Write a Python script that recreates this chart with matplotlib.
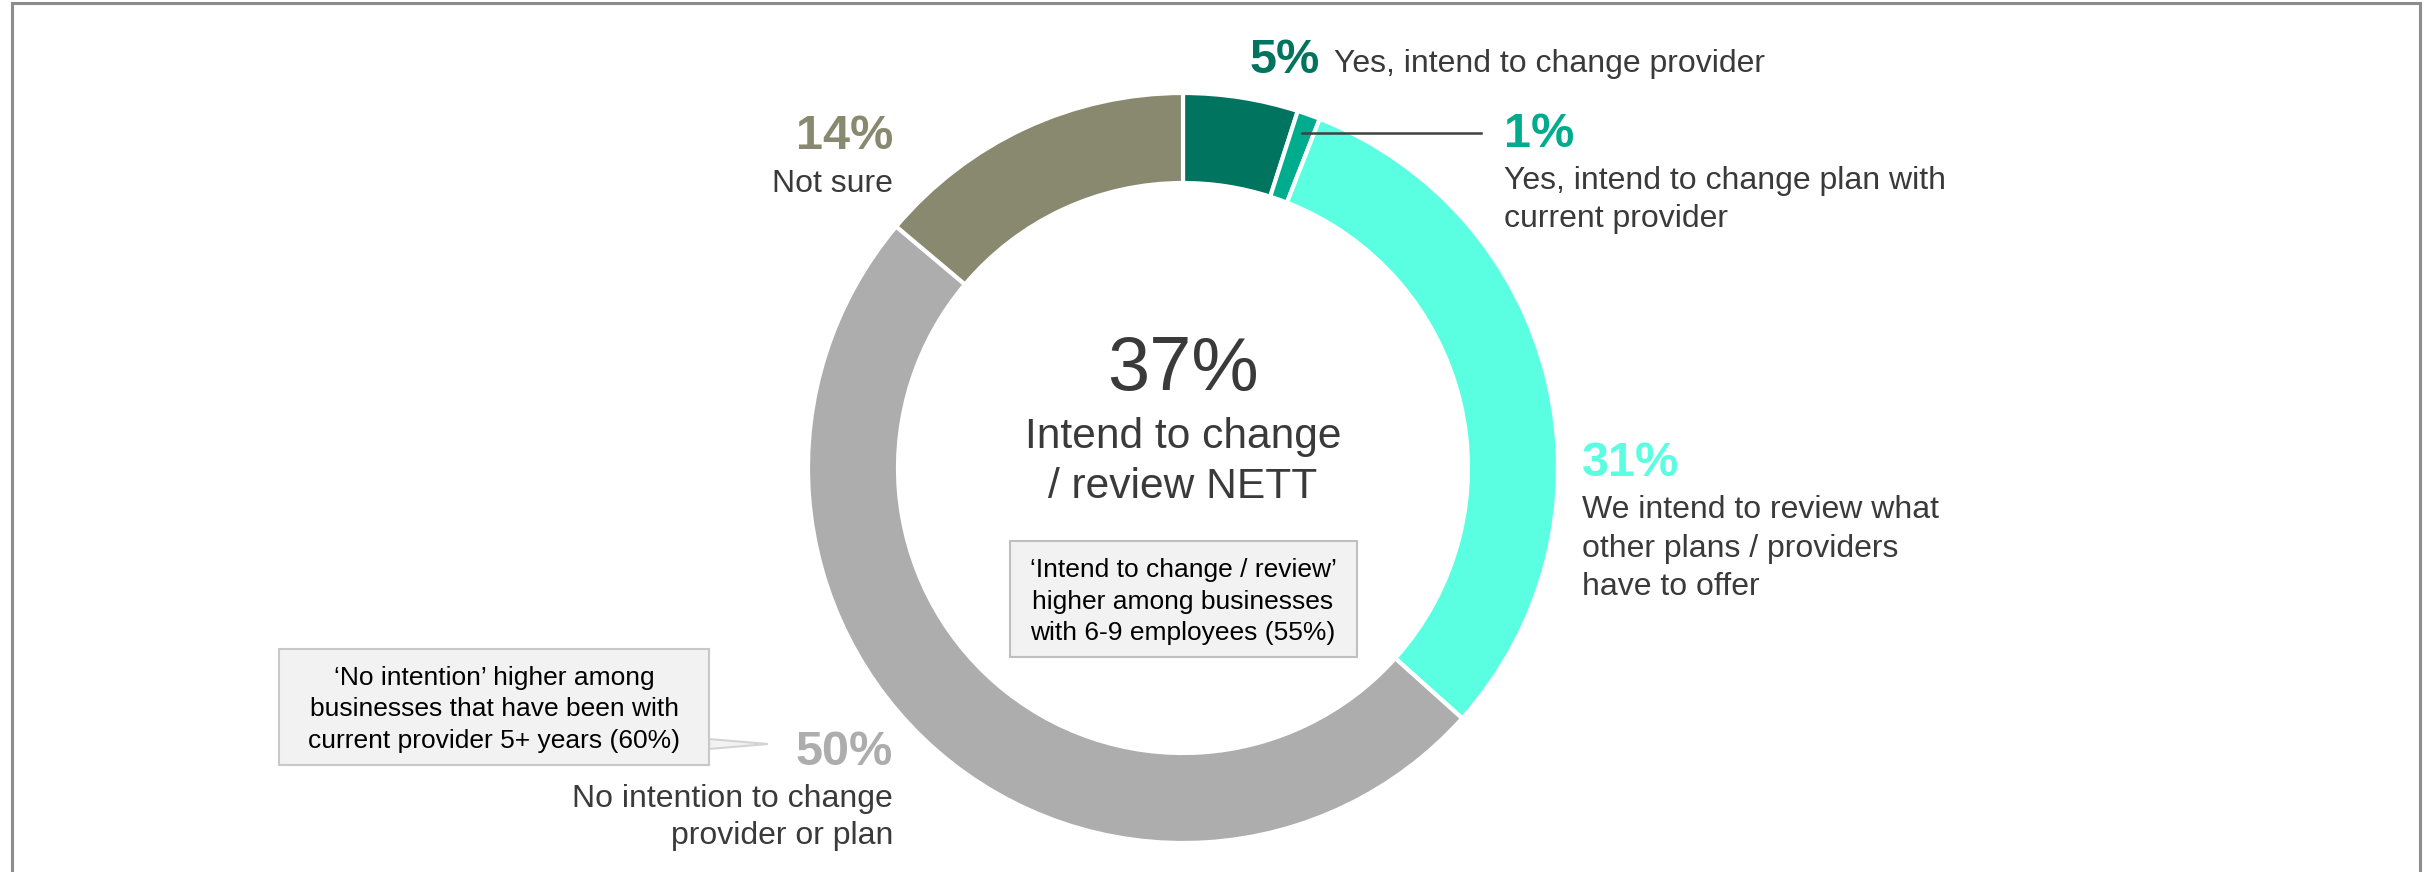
import matplotlib
matplotlib.use('Agg')
import matplotlib.pyplot as plt
from matplotlib.patches import Rectangle, Polygon

plt.rcParams['font.family'] = ['Liberation Sans', 'DejaVu Sans']

# data
categories = ['Yes, intend to change provider',
              'Yes, intend to change plan with current provider',
              'We intend to review what other plans / providers have to offer',
              'No intention to change provider or plan',
              'Not sure']
shares = [5, 1, 31, 50, 14]
colors = ['#00745E', '#00AC8E', '#5AFFE1', '#ADADAD', '#898970']
nett_value = 37

W, H = 2433, 872
TXT = '#3a3a3a'

fig = plt.figure(figsize=(W / 100, H / 100), dpi=100)
ax = fig.add_axes([0, 0, 1, 1])


def Y(py):
    # pixel row from top -> data y
    return H - py


def lines(x, y0, step, rows, **kw):
    for i, r in enumerate(rows):
        ax.text(x, Y(y0 + i * step), r, va='baseline', **kw)


# donut
cx, cy, R, ring = 1183, 468, 375, 90
ax.pie(shares, colors=colors, startangle=90, counterclock=False,
       center=(cx, Y(cy)), radius=R,
       wedgeprops=dict(width=ring, edgecolor='white', linewidth=3))
ax.set_xlim(0, W)
ax.set_ylim(0, H)
ax.set_aspect('equal')
ax.axis('off')

# frame around the slide area
ax.plot([12, 12, 2420, 2420], [0, Y(3), Y(3), 0], color='#8C8C8C', lw=2.2,
        solid_joinstyle='miter')

# centre text
ax.text(cx, Y(390), f'{nett_value}%', ha='center', va='baseline',
        fontsize=54.5, color=TXT)
lines(cx, 448, 50, ['Intend to change', '/ review NETT'],
      ha='center', fontsize=30.6, color=TXT)

# centre note box
ax.add_patch(Rectangle((1010, Y(657)), 347, 116, facecolor='#F2F2F2',
                       edgecolor='#BFBFBF', lw=1.5, zorder=3))
lines(1183, 577, 31.5, ['\u2018Intend to change / review\u2019',
                        'higher among businesses',
                        'with 6-9 employees (55%)'],
      ha='center', fontsize=19, color='black', zorder=4)

# left note box with pointer
ax.add_patch(Polygon([(709, Y(739)), (768, Y(744)), (709, Y(749))],
                     closed=True, facecolor='#F2F2F2', edgecolor='#D3D3D3',
                     lw=1.5, zorder=2))
ax.add_patch(Rectangle((279, Y(765)), 430, 116, facecolor='#F2F2F2',
                       edgecolor='#C8C8C8', lw=1.5, zorder=3))
lines(494, 685, 31.5, ['\u2018No intention\u2019 higher among',
                       'businesses that have been with',
                       'current provider 5+ years (60%)'],
      ha='center', fontsize=19, color='black', zorder=4)

# segment labels
pct = dict(fontsize=35, fontweight='bold', va='baseline')
lab = dict(fontsize=23, color=TXT)

ax.text(1320, Y(73), f'{shares[0]}%', ha='right', color=colors[0], **pct)
ax.text(1334, Y(72), categories[0], va='baseline', **lab)

ax.plot([1302, 1481], [Y(133), Y(133)], color='#404040', lw=1.8)
ax.text(1504, Y(147), f'{shares[1]}%', ha='left', color=colors[1], **pct)
lines(1504, 189, 38, ['Yes, intend to change plan with', 'current provider'], **lab)

ax.text(1582, Y(476), f'{shares[2]}%', ha='left', color=colors[2], **pct)
lines(1582, 518, 38.5, ['We intend to review what', 'other plans / providers',
                        'have to offer'], **lab)

ax.text(893, Y(765), f'{shares[3]}%', ha='right', color=colors[3], **pct)
lines(893, 807, 37, ['No intention to change', 'provider or plan'], ha='right', **lab)

ax.text(893, Y(149), f'{shares[4]}%', ha='right', color=colors[4], **pct)
lines(893, 192, 38, ['Not sure'], ha='right', **lab)

fig.savefig('out.png', dpi=100, facecolor='white')
plt.close()
